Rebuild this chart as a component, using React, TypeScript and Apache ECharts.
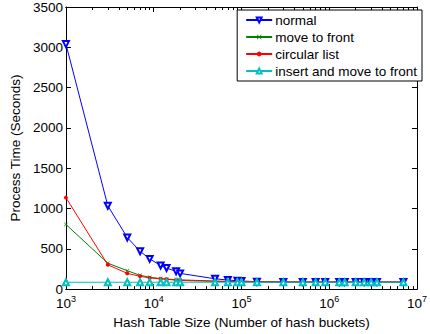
import React, { useEffect, useRef } from "react";
import * as echarts from "echarts";

const bucketSizes = [
  1000, 3000, 5000, 7000, 9000, 12000, 14000, 18000, 20000, 50000, 70000, 90000,
  100000, 150000, 300000, 500000, 700000, 900000, 1300000, 1500000, 2000000,
  2500000, 3000000, 3500000, 7000000,
];
const normalTimes = [
  3040, 1034, 640, 469, 375, 293, 261, 220, 195, 128, 112, 104, 100, 92, 88, 87,
  87, 87, 87, 87, 87, 87, 87, 87, 87,
];
const moveToFrontTimes = [
  802, 322, 228, 171, 147, 131, 125, 118, 115, 100, 96, 94, 93, 90, 88, 87, 87,
  87, 87, 87, 87, 87, 87, 87, 87,
];
const circularListTimes = [
  1135, 302, 195, 159, 139, 127, 122, 110, 107, 96, 93, 92, 91, 89, 87, 87, 87,
  87, 87, 87, 87, 87, 87, 87, 87,
];
const insertMoveFrontTimes = [
  85, 85, 85, 85, 85, 85, 85, 85, 85, 85, 85, 85, 85, 85, 85, 85, 85, 85, 85, 85,
  85, 85, 85, 85, 85,
];
const seriesNames = ["normal", "move to front", "circular list", "insert and move to front"];
const majorX = [1e3, 1e4, 1e5, 1e6, 1e7];
const yTicks = [0, 500, 1000, 1500, 2000, 2500, 3000, 3500];

const minorX: number[] = [];
for (let e = 3; e < 7; e++) {
  for (let m = 2; m <= 9; m++) minorX.push(m * Math.pow(10, e));
}

const FONT = "Liberation Sans, Arial, Helvetica, sans-serif";
const FS = 13.5;

export default function App() {
  const ref = useRef<HTMLDivElement>(null);
  useEffect(() => {
    if (!ref.current) return;
    const chart = echarts.init(ref.current, null, { renderer: "svg" });
    const pair = (ys: number[]) => bucketSizes.map((x, i) => [x, ys[i]]);
    const xBase = (extra: any) => ({
      type: "log",
      logBase: 10,
      min: 1000,
      max: 1e7,
      gridIndex: 0,
      splitLine: { show: false },
      axisLine: { show: true, onZero: false, lineStyle: { color: "#000", width: 1 } },
      ...extra,
    });
    const xAxes = [
      xBase({
        position: "bottom",
        axisTick: { show: true, inside: true, length: 5, customValues: majorX, lineStyle: { color: "#000" } },
        axisLabel: {
          show: true,
          customValues: majorX,
          margin: 5,
          formatter: (v: number) => `{b|10}{s|${Math.round(Math.log10(v))}}`,
          rich: {
            b: { fontSize: FS, fontFamily: FONT, color: "#000" },
            s: { fontSize: 9, fontFamily: FONT, color: "#000", padding: [0, 0, 9, 0] },
          },
        },
        name: "Hash Table Size (Number of hash buckets)",
        nameLocation: "middle",
        nameGap: 24,
        nameTextStyle: { fontSize: FS, fontFamily: FONT, color: "#000" },
      }),
      xBase({
        position: "bottom",
        axisTick: { show: true, inside: true, length: 3, customValues: minorX, lineStyle: { color: "#000" } },
        axisLabel: { show: false },
      }),
      xBase({
        position: "top",
        axisTick: { show: true, inside: true, length: 5, customValues: majorX, lineStyle: { color: "#000" } },
        axisLabel: { show: false },
      }),
      xBase({
        position: "top",
        axisTick: { show: true, inside: true, length: 3, customValues: minorX, lineStyle: { color: "#000" } },
        axisLabel: { show: false },
      }),
    ];
    const yBase = (extra: any) => ({
      type: "value",
      min: 0,
      max: 3500,
      interval: 500,
      splitLine: { show: false },
      axisLine: { show: true, onZero: false, lineStyle: { color: "#000", width: 1 } },
      axisTick: { show: true, inside: true, length: 5, lineStyle: { color: "#000" } },
      ...extra,
    });
    const yAxes = [
      yBase({
        position: "left",
        axisLabel: {
          show: true,
          margin: 3,
          fontSize: FS,
          fontFamily: FONT,
          color: "#000",
          customValues: yTicks,
          formatter: (v: number) => String(v),
        },
        name: "Process Time (Seconds)",
        nameLocation: "middle",
        nameGap: 36,
        nameTextStyle: { fontSize: FS, fontFamily: FONT, color: "#000" },
      }),
      yBase({ position: "right", axisLabel: { show: false } }),
    ];
    const mk = (name: string, data: number[], color: string, symbol: string, size: number, rotate = 0) => ({
      name,
      type: "line",
      xAxisIndex: 0,
      yAxisIndex: 0,
      data: pair(data),
      symbol,
      symbolSize: size,
      symbolRotate: rotate,
      showAllSymbol: true,
      itemStyle: { color },
      lineStyle: { color, width: 1 },
    });
    chart.setOption({
      animation: false,
      backgroundColor: "#fff",
      textStyle: { fontFamily: FONT },
      grid: { left: 65, right: 2, top: 4, bottom: 43 },
      xAxis: xAxes,
      yAxis: yAxes,
      legend: {
        orient: "vertical",
        right: 8,
        top: 10,
        backgroundColor: "#fff",
        borderColor: "#000",
        borderWidth: 1,
        borderRadius: 0,
        padding: [3, 5, 3, 8],
        itemGap: 3,
        itemWidth: 26,
        itemHeight: 6,
        textStyle: { fontSize: FS, fontFamily: FONT, color: "#000", padding: [0, 0, 0, -2] },
        data: seriesNames,
      },
      series: [
        mk(seriesNames[0], normalTimes, "#0000ff", "emptyTriangle", 6, 180),
        mk(
          seriesNames[1],
          moveToFrontTimes,
          "#008000",
          "path://M0,1L1,0L5,4L9,0L10,1L6,5L10,9L9,10L5,6L1,10L0,9L4,5Z",
          4
        ),
        mk(seriesNames[2], circularListTimes, "#ff0000", "circle", 4),
        mk(seriesNames[3], insertMoveFrontTimes, "#00bfbf", "emptyTriangle", 6),
      ],
    });
    return () => chart.dispose();
  }, []);
  return (
    <div
      ref={ref}
      style={{ position: "fixed", left: 0, top: 0, width: 430, height: 334 }}
    />
  );
}
